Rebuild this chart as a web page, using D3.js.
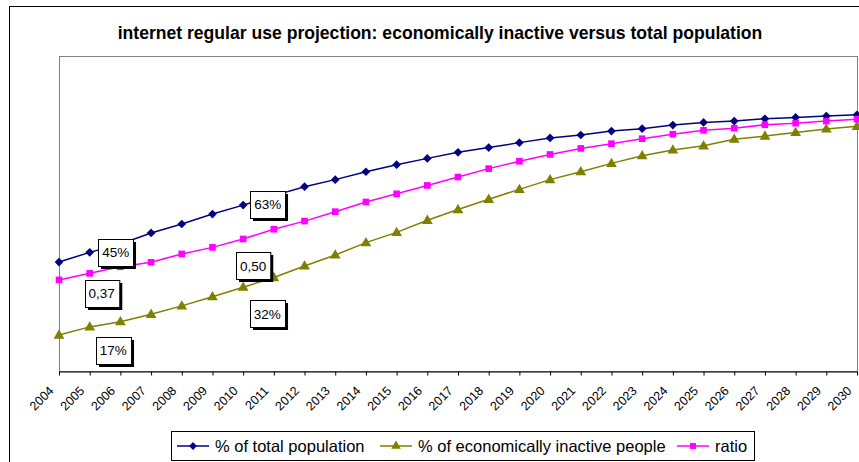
<!DOCTYPE html>
<html><head><meta charset="utf-8">
<script src="https://cdn.jsdelivr.net/npm/d3@7"></script>
<style>html,body{margin:0;padding:0;background:#fff;overflow:hidden}svg{display:block;font-family:Arial,"Liberation Sans",sans-serif}</style>
</head><body><svg id="c" width="859" height="462"></svg>
<script>
const years = ["2004","2005","2006","2007","2008","2009","2010","2011","2012","2013","2014","2015","2016","2017","2018","2019","2020","2021","2022","2023","2024","2025","2026","2027","2028","2029","2030"];
const totalPop = [0.415,0.452,0.484,0.526,0.560,0.598,0.632,0.668,0.702,0.729,0.759,0.786,0.810,0.833,0.851,0.870,0.888,0.899,0.914,0.923,0.937,0.947,0.952,0.961,0.966,0.971,0.976];
const inactive = [0.137,0.168,0.188,0.216,0.248,0.283,0.319,0.356,0.400,0.442,0.489,0.528,0.574,0.615,0.654,0.692,0.729,0.759,0.791,0.820,0.842,0.858,0.883,0.895,0.909,0.922,0.932];
const ratio = [0.347,0.372,0.397,0.414,0.446,0.471,0.503,0.540,0.571,0.607,0.644,0.675,0.707,0.739,0.771,0.799,0.825,0.848,0.866,0.885,0.902,0.917,0.925,0.938,0.944,0.952,0.959];
const seriesNames = ["% of total population","% of economically inactive people","ratio"];
const title = "internet regular use projection: economically inactive versus total population";

const series = [
  {name: seriesNames[0], values: totalPop, color: "#000080", marker: "diamond", fmt: v => Math.round(v*100) + "%"},
  {name: seriesNames[1], values: inactive, color: "#808000", marker: "triangle", fmt: v => Math.round(v*100) + "%"},
  {name: seriesNames[2], values: ratio, color: "#FF00FF", marker: "square", fmt: v => v.toFixed(2).replace(".", ",")}
];
// annotation placement (series index, year index, offset)
const annotations = [
  {s:0, i:1, dx:26, dy:0}, {s:0, i:6, dx:24.5, dy:-1},
  {s:2, i:1, dx:12, dy:20}, {s:2, i:6, dx:10, dy:27},
  {s:1, i:1, dx:23.5, dy:23.5}, {s:1, i:6, dx:24, dy:26.5}
];
const legendX = [177, 380, 677];

const svg = d3.select("#c");
const L = 59, R = 857, T = 56, B = 371;
const x = d3.scalePoint().domain(years).range([L, R]);
const y = d3.scaleLinear().domain([0, 1.2]).range([B, T]);

// outer chart border
svg.append("rect").attr("x", 9.5).attr("y", 6.5).attr("width", 900).attr("height", 500)
  .attr("fill", "#fff").attr("stroke", "#000").attr("stroke-width", 1);

// title
const t = svg.append("text").attr("x", 440).attr("y", 39).attr("text-anchor", "middle")
  .attr("font-weight", "bold").attr("font-size", 16).attr("fill", "#000").text(title);
const tw = t.node().getComputedTextLength();
t.attr("font-size", 16 * 645 / tw);

// plot area
svg.append("rect").attr("x", L + 0.5).attr("y", T + 0.5).attr("width", R - L).attr("height", B - T)
  .attr("fill", "#fff").attr("stroke", "#808080").attr("stroke-width", 1);

// x axis
const xAxis = d3.axisBottom(x).tickSize(4).tickSizeOuter(0).tickFormat(d => d);
const gx = svg.append("g").attr("transform", `translate(0,${B + 0.5})`).call(xAxis);
gx.select(".domain").attr("stroke", "#000");
gx.selectAll(".tick line").attr("stroke", "#000");
gx.selectAll(".tick text").attr("font-size", 12.5).attr("fill", "#000")
  .attr("text-anchor", "end").attr("dy", 0).attr("y", 0)
  .attr("transform", "translate(-5,20) rotate(-45)");

const symType = {diamond: d3.symbolSquare, triangle: d3.symbolTriangle, square: d3.symbolSquare};
const symSize = {diamond: 38, triangle: 50, square: 44};
const symRot = {diamond: 45, triangle: 0, square: 0};

const line = d3.line().x((d, i) => x(years[i])).y(d => y(d));
series.forEach(s => {
  svg.append("path").attr("d", line(s.values)).attr("fill", "none")
    .attr("stroke", s.color).attr("stroke-width", 1.5);
  svg.append("g").selectAll("path").data(s.values).join("path")
    .attr("transform", (d, i) => `translate(${x(years[i])},${y(d) + (s.marker === "triangle" ? 0.5 : 0)}) rotate(${symRot[s.marker]})`)
    .attr("d", d3.symbol().type(symType[s.marker]).size(symSize[s.marker]))
    .attr("fill", s.color);
});

// data labels
annotations.forEach(a => {
  const s = series[a.s];
  const v = s.values[a.i];
  const cx = x(years[a.i]) + a.dx, cy = y(v) + a.dy;
  const g = svg.append("g");
  const txt = g.append("text").attr("font-size", 13.5).attr("text-anchor", "middle")
    .attr("x", cx).attr("y", cy + 4.8).attr("fill", "#000").text(s.fmt(v));
  const w = txt.node().getComputedTextLength() + 8, h = 27;
  g.insert("rect", "text").attr("x", Math.round(cx - w / 2) + 3).attr("y", Math.round(cy - h / 2) + 3)
    .attr("width", w).attr("height", h).attr("fill", "#000");
  g.insert("rect", "text").attr("x", Math.round(cx - w / 2) + 0.5).attr("y", Math.round(cy - h / 2) + 0.5)
    .attr("width", w).attr("height", h).attr("fill", "#fff").attr("stroke", "#000").attr("stroke-width", 1);
});

// legend
const lg = svg.append("g");
lg.append("rect").attr("x", 171.5).attr("y", 431.5).attr("height", 29).attr("width", 583)
  .attr("fill", "#fff").attr("stroke", "#000").attr("stroke-width", 1);
const ly = 446;
series.forEach((s, k) => {
  const lx = legendX[k];
  lg.append("line").attr("x1", lx).attr("x2", lx + 32).attr("y1", ly).attr("y2", ly)
    .attr("stroke", s.color).attr("stroke-width", 1.5);
  lg.append("path").attr("transform", `translate(${lx + 16},${ly}) rotate(${symRot[s.marker]})`)
    .attr("d", d3.symbol().type(symType[s.marker]).size(symSize[s.marker] * 0.8)).attr("fill", s.color);
  lg.append("text").attr("x", lx + 38).attr("y", ly + 5.5).attr("font-size", 16.5)
    .attr("fill", "#000").text(s.name);
});
</script></body></html>
